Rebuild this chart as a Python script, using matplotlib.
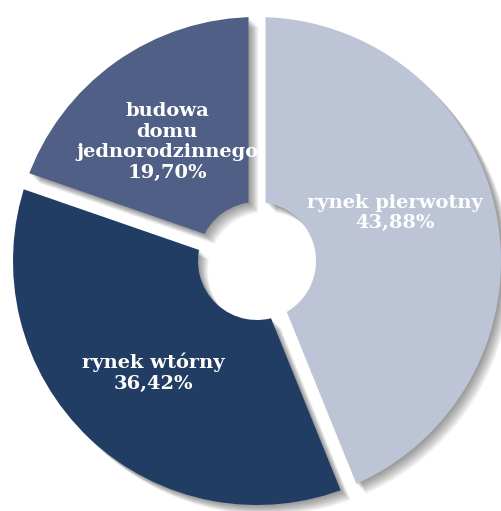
import numpy as np
import matplotlib
matplotlib.use("Agg")
from matplotlib import pyplot as plt
from matplotlib.patches import Polygon

# udział źródeł finansowania
labels = ["rynek pierwotny", "rynek wtórny", "budowa\ndomu\njednorodzinnego"]
values = [43.88, 36.42, 19.70]
colors = ["#bcc4d6", "#223d64", "#4f5f85"]

W, H = 502, 511
cx, cy = 257, H - 261      # środek koła (oś y w górę)
R, r_in = 244, 59          # promień zewnętrzny i dziury
gap = 8.5                  # połowa szerokości szczeliny

fig = plt.figure(figsize=(W / 100, H / 100), dpi=100)
ax = fig.add_axes([0, 0, 1, 1])
ax.set_xlim(0, W)
ax.set_ylim(0, H)
ax.set_aspect("equal")
ax.axis("off")


def clip_poly(t1, t2, dx=0.0, dy=0.0):
    # wycinek przesunięty tak, by krawędzie leżały gap od promieni
    t1r, t2r = np.radians(t1), np.radians(t2)
    half = (t2r - t1r) / 2
    mid = (t1r + t2r) / 2
    d = gap / np.sin(half)
    ax0 = cx + dx + d * np.cos(mid)
    ay0 = cy + dy + d * np.sin(mid)
    L = 1000
    ts = np.linspace(t1r, t2r, 60)
    pts = [(ax0, ay0)] + [(ax0 + L * np.cos(t), ay0 + L * np.sin(t)) for t in ts]
    return Polygon(pts, closed=True, transform=ax.transData)


# cień pod wycinkami, kilka warstw dla miękkiej krawędzi
for k in range(1, 10):
    off = k * 1.1
    sw, _ = ax.pie(values, startangle=90, counterclock=False, radius=R,
                   center=(cx + off, cy - off), colors=["#000000"] * 3,
                   wedgeprops=dict(width=R - r_in, linewidth=0, alpha=0.05))
    for w in sw:
        w.set_clip_on(True)
        w.set_clip_path(clip_poly(w.theta1, w.theta2, off, -off))

wedges, _ = ax.pie(values, startangle=90, counterclock=False, radius=R,
                   center=(cx, cy), colors=colors,
                   wedgeprops=dict(width=R - r_in, linewidth=0))
for w in wedges:
    w.set_clip_on(True)
    w.set_clip_path(clip_poly(w.theta1, w.theta2))

ax.set_xlim(0, W)
ax.set_ylim(0, H)

# podpisy
label_xy = [(395, 213), (153, 373), (167, 142)]
for lab, v, (x, y) in zip(labels, values, label_xy):
    txt = lab + "\n" + "{:.2f}%".format(v).replace(".", ",")
    ax.text(x, H - y, txt, ha="center", va="center", color="white",
            fontsize=14, fontweight="bold", family="DejaVu Serif",
            linespacing=1.2)

plt.savefig("out.png", dpi=100)
